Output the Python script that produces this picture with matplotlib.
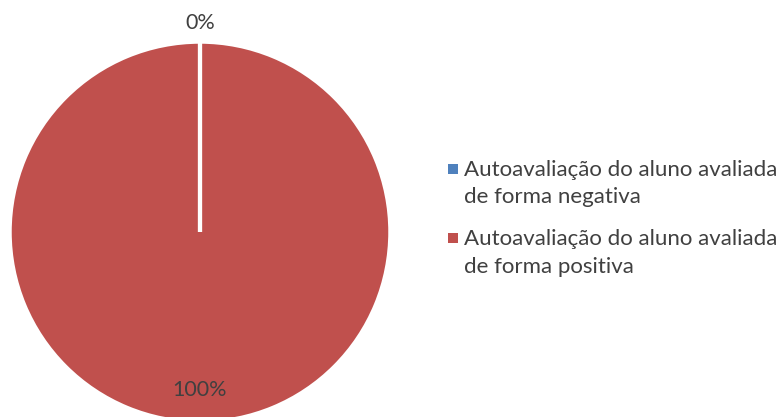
import numpy as np
import matplotlib.pyplot as plt
from matplotlib.patches import Rectangle
from matplotlib.legend_handler import HandlerPatch

plt.rcParams['font.family'] = ['Lato', 'DejaVu Sans']

# Dados do gráfico
categorias = ["Autoavaliação do aluno avaliada\nde forma negativa",
              "Autoavaliação do aluno avaliada\nde forma positiva"]
valores = [0, 100]
cores = ['#4F81BD', '#C0504D']

W, H = 780, 417
fig = plt.figure(figsize=(W / 100, H / 100), dpi=100)

# eixo da pizza: centro em (200, 232) px, raio 190 px
cx, cy, r = 200, 232, 190
ax = fig.add_axes([(cx - r) / W, (H - cy - r) / H, 2 * r / W, 2 * r / H])

wedges, _ = ax.pie(valores, colors=cores, startangle=90, counterclock=False,
                   radius=1, wedgeprops=dict(edgecolor='white', linewidth=2.5))
for w in wedges:
    w.set_clip_on(False)
# divisória branca entre as fatias
for w in wedges:
    a = np.deg2rad(w.theta2)
    ax.plot([0, np.cos(a)], [0, np.sin(a)], color='white', lw=3, solid_capstyle='butt')
ax.set_xlim(-1, 1)
ax.set_ylim(-1, 1)
ax.set_aspect('equal')

# rótulos de porcentagem
total = sum(valores)
dist = [1.1, 0.83]
for w, v, d in zip(wedges, valores, dist):
    ang = np.deg2rad((w.theta1 + w.theta2) / 2)
    ax.text(d * np.cos(ang), d * np.sin(ang), f"{v / total * 100:.0f}%",
            ha='center', va='center', fontsize=15.5, color='#404040', clip_on=False)


def quadrado(legend, orig_handle, xdescent, ydescent, width, height, fontsize):
    # quadrado alinhado com a primeira linha do texto
    return Rectangle((-xdescent, -ydescent + 0.72 * fontsize), width, width, lw=0)


marcadores = [Rectangle((0, 0), 1, 1, facecolor=c, edgecolor='none') for c in cores]
leg = fig.legend(marcadores, categorias, loc='upper left',
                 bbox_to_anchor=(428 / W, 1 - 140 / H),
                 frameon=False, fontsize=16, labelcolor='#404040', handlelength=0.45,
                 handleheight=0.45, handletextpad=0.28, labelspacing=1.0,
                 handler_map={Rectangle: HandlerPatch(patch_func=quadrado)})
for t in leg.get_texts():
    t.set_linespacing(1.45)

fig.savefig('out.png', dpi=100)
